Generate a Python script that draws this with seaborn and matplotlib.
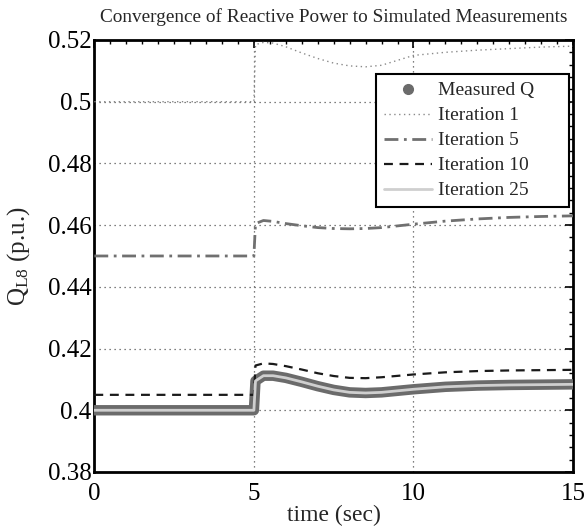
import matplotlib
matplotlib.use("Agg")
import matplotlib.pyplot as plt
from matplotlib.lines import Line2D
from matplotlib.ticker import MultipleLocator
import seaborn as sns
import pandas as pd

time = [0, 5, 5.05, 5.3, 5.6, 6, 6.5, 7, 7.5, 8, 8.5, 9, 10, 11, 12, 13, 14, 15]
measured_q = [0.4, 0.4, 0.4095, 0.4112, 0.4112, 0.4105, 0.4092, 0.4078, 0.4066, 0.4058,
              0.4056, 0.4058, 0.4068, 0.4076, 0.4080, 0.4082, 0.4083, 0.4084]
iter1 = [0.5, 0.5, 0.5185, 0.5192, 0.5190, 0.5178, 0.5158, 0.5140, 0.5125, 0.5116,
         0.5113, 0.5118, 0.5150, 0.5160, 0.5167, 0.5172, 0.5177, 0.5180]
iter5 = [0.45, 0.45, 0.4605, 0.4615, 0.4612, 0.4605, 0.4598, 0.4592, 0.4589, 0.4588,
         0.4589, 0.4592, 0.4603, 0.4613, 0.4620, 0.4625, 0.4628, 0.4630]
iter10 = [0.405, 0.405, 0.4145, 0.4152, 0.4150, 0.4143, 0.4132, 0.4120, 0.4111, 0.4105,
          0.4104, 0.4107, 0.4116, 0.4123, 0.4127, 0.4129, 0.4130, 0.4131]
iter25 = [0.4, 0.4, 0.4095, 0.4112, 0.4112, 0.4105, 0.4092, 0.4078, 0.4066, 0.4058,
          0.4056, 0.4058, 0.4068, 0.4076, 0.4080, 0.4082, 0.4083, 0.4084]

labels = ["Measured Q", "Iteration 1", "Iteration 5", "Iteration 10", "Iteration 25"]
title = "Convergence of Reactive Power to Simulated Measurements"
xticks = [0, 5, 10, 15]
yticks = [0.38, 0.40, 0.42, 0.44, 0.46, 0.48, 0.50, 0.52]
ytick_labels = ["0.38", "0.4", "0.42", "0.44", "0.46", "0.48", "0.5", "0.52"]

sns.set_style("white")
plt.rcParams['font.family'] = ['Liberation Serif', 'DejaVu Serif']
plt.rcParams['mathtext.fontset'] = 'custom'
plt.rcParams['mathtext.rm'] = 'Liberation Serif'
plt.rcParams['mathtext.it'] = 'Liberation Serif:italic'

df = pd.DataFrame({"t": time, "meas": measured_q, "i1": iter1, "i5": iter5,
                   "i10": iter10, "i25": iter25})

fig = plt.figure(figsize=(5.87, 5.26), dpi=100)
ax = fig.add_axes([0.1607, 0.1027, 0.8155, 0.8213])

sns.lineplot(data=df, x="t", y="meas", ax=ax, color="#6b6b6b", lw=7.5,
             solid_capstyle="round", zorder=3)
sns.lineplot(data=df, x="t", y="i1", ax=ax, color="#8a8a8a", lw=1.0,
             linestyle=(0, (1, 2.5)), zorder=3)
sns.lineplot(data=df, x="t", y="i5", ax=ax, color="#707070", lw=2.0,
             linestyle=(0, (5, 2, 1, 2)), zorder=3)
sns.lineplot(data=df, x="t", y="i10", ax=ax, color="#1a1a1a", lw=1.6,
             linestyle=(0, (4, 3)), zorder=3)
sns.lineplot(data=df, x="t", y="i25", ax=ax, color="#cfcfcf", lw=2.0, zorder=4)

ax.set_xlim(0, 15)
ax.set_ylim(0.38, 0.52)
ax.set_xticks(xticks)
ax.set_yticks(yticks)
ax.set_yticklabels(ytick_labels)
ax.xaxis.set_minor_locator(MultipleLocator(0.5))
ax.yaxis.set_minor_locator(MultipleLocator(0.004))
ax.tick_params(which="both", direction="in", top=True, right=True,
               labelsize=18, colors="black", pad=2)
ax.tick_params(which="major", length=6, width=1.2)
ax.tick_params(which="minor", length=3, width=1.0)
ax.tick_params(axis="x", pad=8)
ax.grid(True, which="major", linestyle=(0, (1, 3)), color="#555555", lw=0.9)
for s in ax.spines.values():
    s.set_linewidth(2.0)
    s.set_color("black")
    s.set_visible(True)

ax.set_xlabel("time (sec)", fontsize=17, labelpad=0)
ax.set_ylabel(r"$\mathregular{Q_{L8}}$ (p.u.)", fontsize=18)
ax.yaxis.set_label_coords(-0.13, 0.5)
ax.set_title(title, fontsize=13.9, pad=13)

handles = [
    Line2D([], [], marker="o", color="#6b6b6b", linestyle="none", markersize=7),
    Line2D([], [], color="#8a8a8a", lw=1.0, linestyle=(0, (1, 2.5))),
    Line2D([], [], color="#707070", lw=2.0, linestyle=(0, (5, 2, 1, 2))),
    Line2D([], [], color="#1a1a1a", lw=1.6, linestyle=(0, (4, 3))),
    Line2D([], [], color="#cfcfcf", lw=2.0),
]
leg = ax.legend(handles, labels, loc="upper left",
                bbox_to_anchor=(0.5885, 0.0, 0.4031, 0.921), mode="expand",
                fontsize=14, frameon=True, fancybox=False, framealpha=1,
                edgecolor="black", borderpad=0.4, labelspacing=0.38,
                handlelength=2.5, handletextpad=0.3, borderaxespad=0)
leg.get_frame().set_linewidth(1.5)

fig.savefig("out.png", dpi=100)
